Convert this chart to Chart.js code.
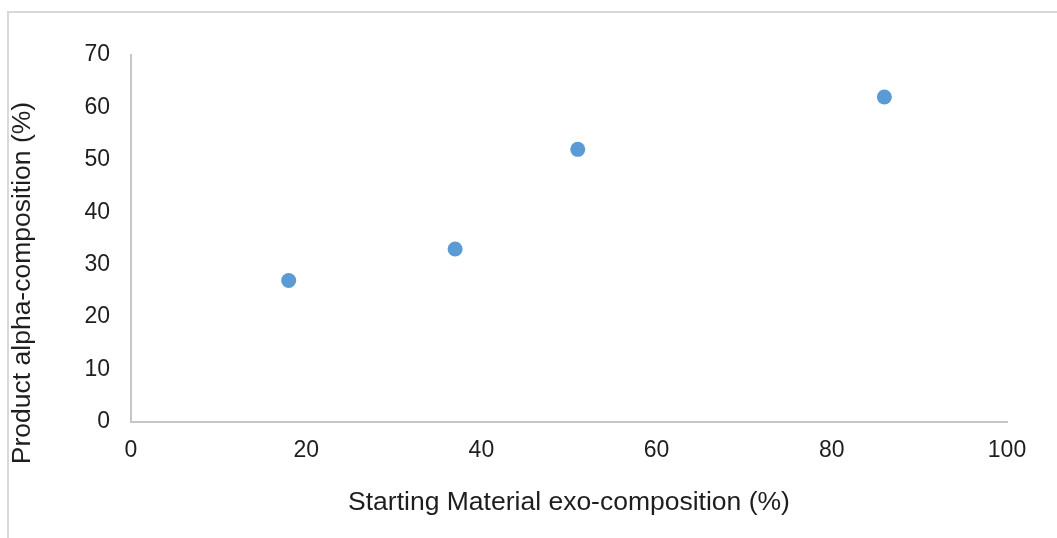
<!DOCTYPE html>
<html>
<head>
<meta charset="utf-8">
<script src="https://cdn.jsdelivr.net/npm/chart.js@4/dist/chart.umd.min.js"></script>
<style>
  html, body { margin: 0; padding: 0; background: #fff; overflow: hidden; }
  #frame { position: absolute; left: 7px; top: 11px; width: 1100px; height: 600px; border: 2px solid #d9d9d9; }
  #wrap { position: absolute; left: 0; top: 0; width: 1057px; height: 538px; }
</style>
</head>
<body>
<div id="frame"></div>
<div id="wrap"><canvas id="chart"></canvas></div>
<script>
// values
const exoComposition = [18, 37, 51, 86];
const alphaComposition = [27, 33, 52, 62];
const xTicks = [0, 20, 40, 60, 80, 100];
const yTicks = [0, 10, 20, 30, 40, 50, 60, 70];
const xTitle = 'Starting Material exo-composition (%)';
const yTitle = 'Product alpha-composition (%)';

const font = 'Liberation Sans, Arial, sans-serif';
const textColor = '#1e1e1e';
const axisColor = '#c6c6c6';

const points = exoComposition.map((x, i) => ({ x: x, y: alphaComposition[i] }));

// y title is drawn by hand so it can sit a bit lower than the plot centre, like the original
const yTitlePlugin = {
  id: 'yTitle',
  afterDraw(chart) {
    const ctx = chart.ctx;
    ctx.save();
    ctx.translate(23, 283);
    ctx.rotate(-Math.PI / 2);
    ctx.font = '26.5px ' + font;
    ctx.fillStyle = textColor;
    ctx.textAlign = 'center';
    ctx.textBaseline = 'middle';
    ctx.fillText(yTitle, 0, 0);
    ctx.restore();
  }
};

new Chart(document.getElementById('chart'), {
  type: 'scatter',
  data: {
    datasets: [{
      label: 'data',
      data: points,
      backgroundColor: '#5b9bd5',
      borderColor: '#5b9bd5',
      pointRadius: 7.5,
      pointHoverRadius: 7.5,
      borderWidth: 0
    }]
  },
  options: {
    responsive: true,
    maintainAspectRatio: false,
    animation: false,
    events: [],
    layout: { padding: { left: 0, right: 50, top: 55, bottom: 0 } },
    plugins: {
      legend: { display: false },
      tooltip: { enabled: false }
    },
    scales: {
      x: {
        type: 'linear',
        min: xTicks[0],
        max: xTicks[xTicks.length - 1],
        afterBuildTicks: (axis) => { axis.ticks = xTicks.map(v => ({ value: v })); },
        afterFit: (axis) => { axis.height = 116; },
        grid: { display: false, drawTicks: false },
        border: { display: true, color: axisColor, width: 2 },
        ticks: { color: textColor, font: { family: font, size: 23 }, padding: 15, maxRotation: 0 },
        title: {
          display: true,
          text: xTitle,
          color: textColor,
          font: { family: font, size: 26.5 },
          padding: { top: 0, bottom: 19 }
        }
      },
      y: {
        type: 'linear',
        min: yTicks[0],
        max: yTicks[yTicks.length - 1],
        afterBuildTicks: (axis) => { axis.ticks = yTicks.map(v => ({ value: v })); },
        afterFit: (axis) => { axis.width = 131; },
        grid: { display: false, drawTicks: false },
        border: { display: true, color: axisColor, width: 2 },
        ticks: { color: textColor, font: { family: font, size: 23 }, padding: 21 }
      }
    }
  },
  plugins: [yTitlePlugin]
});
</script>
</body>
</html>
